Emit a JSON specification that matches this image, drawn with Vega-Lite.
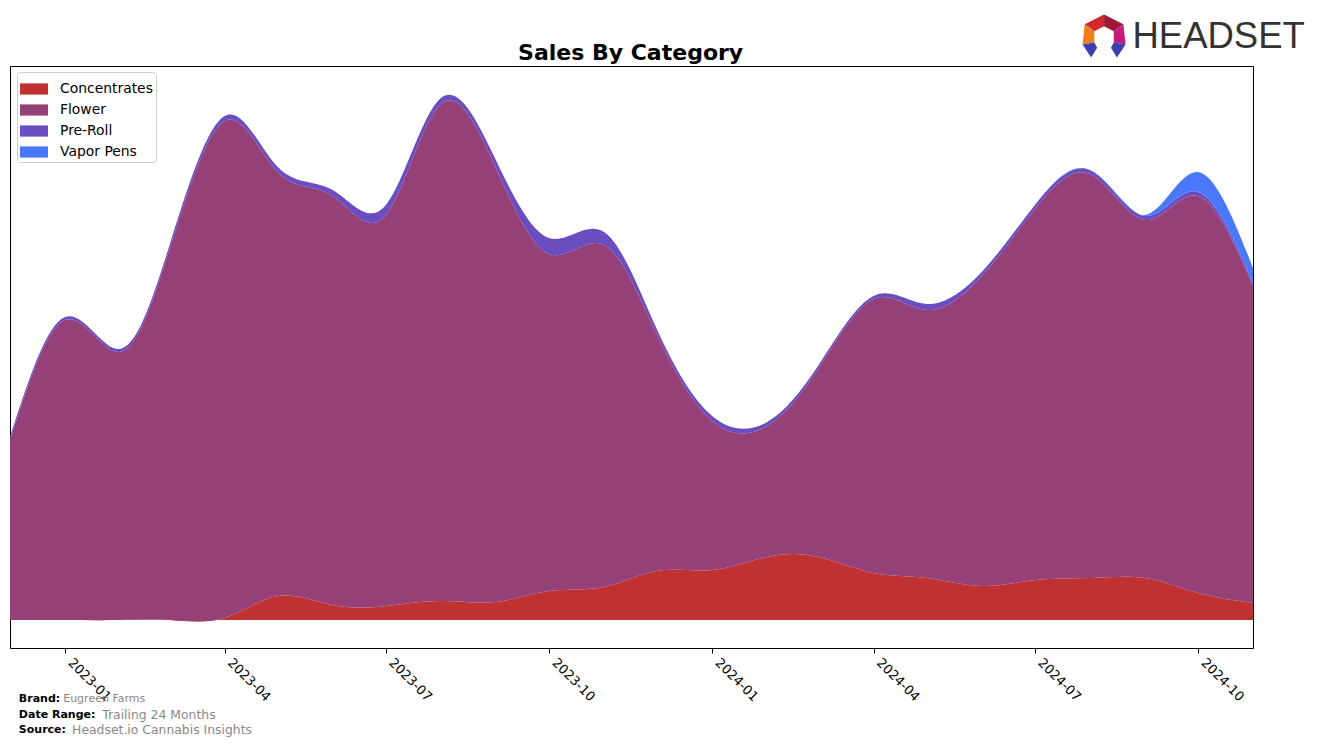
{
  "$schema": "https://vega.github.io/schema/vega-lite/v6.json",
  "width": 1243,
  "height": 582,
  "autosize": {"type": "none"},
  "padding": {"left": 10, "top": 66, "right": 64, "bottom": 98},
  "background": "white",
  "config": {
    "font": "DejaVu Sans",
    "view": {"stroke": "black", "strokeWidth": 1},
    "legend": {
      "orient": "none", "legendX": 7, "legendY": 6, "title": null,
      "labelFontSize": 13.9, "labelColor": "black", "labelOffset": 12, "labelFont": "DejaVu Sans",
      "symbolType": "M-1,-0.4H1V0.4H-1Z", "symbolSize": 784, "symbolStrokeWidth": 0,
      "strokeColor": "#cccccc", "fillColor": "white", "padding": 3, "cornerRadius": 3, "rowPadding": -0.3
    }
  },
  "resolve": {"axis": {"x": "independent"}},
  "data": {"values": [
    {"month": "2022-12-01", "category": "Concentrates", "sales": 0},
    {"month": "2023-01-01", "category": "Concentrates", "sales": 0},
    {"month": "2023-02-01", "category": "Concentrates", "sales": 0},
    {"month": "2023-03-01", "category": "Concentrates", "sales": 0},
    {"month": "2023-04-01", "category": "Concentrates", "sales": 2},
    {"month": "2023-05-01", "category": "Concentrates", "sales": 24},
    {"month": "2023-06-01", "category": "Concentrates", "sales": 15},
    {"month": "2023-07-01", "category": "Concentrates", "sales": 14},
    {"month": "2023-08-01", "category": "Concentrates", "sales": 19},
    {"month": "2023-09-01", "category": "Concentrates", "sales": 18},
    {"month": "2023-10-01", "category": "Concentrates", "sales": 29},
    {"month": "2023-11-01", "category": "Concentrates", "sales": 33},
    {"month": "2023-12-01", "category": "Concentrates", "sales": 49},
    {"month": "2024-01-01", "category": "Concentrates", "sales": 50},
    {"month": "2024-02-01", "category": "Concentrates", "sales": 63},
    {"month": "2024-03-01", "category": "Concentrates", "sales": 63},
    {"month": "2024-04-01", "category": "Concentrates", "sales": 47},
    {"month": "2024-05-01", "category": "Concentrates", "sales": 42},
    {"month": "2024-06-01", "category": "Concentrates", "sales": 34},
    {"month": "2024-07-01", "category": "Concentrates", "sales": 40},
    {"month": "2024-08-01", "category": "Concentrates", "sales": 42},
    {"month": "2024-09-01", "category": "Concentrates", "sales": 42},
    {"month": "2024-10-01", "category": "Concentrates", "sales": 27},
    {"month": "2024-11-01", "category": "Concentrates", "sales": 17},
    {"month": "2022-12-01", "category": "Flower", "sales": 180},
    {"month": "2023-01-01", "category": "Flower", "sales": 300},
    {"month": "2023-02-01", "category": "Flower", "sales": 268},
    {"month": "2023-03-01", "category": "Flower", "sales": 371},
    {"month": "2023-04-01", "category": "Flower", "sales": 497},
    {"month": "2023-05-01", "category": "Flower", "sales": 424},
    {"month": "2023-06-01", "category": "Flower", "sales": 409},
    {"month": "2023-07-01", "category": "Flower", "sales": 391},
    {"month": "2023-08-01", "category": "Flower", "sales": 497},
    {"month": "2023-09-01", "category": "Flower", "sales": 434},
    {"month": "2023-10-01", "category": "Flower", "sales": 337},
    {"month": "2023-11-01", "category": "Flower", "sales": 342},
    {"month": "2023-12-01", "category": "Flower", "sales": 236},
    {"month": "2024-01-01", "category": "Flower", "sales": 149},
    {"month": "2024-02-01", "category": "Flower", "sales": 131},
    {"month": "2024-03-01", "category": "Flower", "sales": 189},
    {"month": "2024-04-01", "category": "Flower", "sales": 274},
    {"month": "2024-05-01", "category": "Flower", "sales": 268},
    {"month": "2024-06-01", "category": "Flower", "sales": 310},
    {"month": "2024-07-01", "category": "Flower", "sales": 371},
    {"month": "2024-08-01", "category": "Flower", "sales": 404},
    {"month": "2024-09-01", "category": "Flower", "sales": 358},
    {"month": "2024-10-01", "category": "Flower", "sales": 397},
    {"month": "2024-11-01", "category": "Flower", "sales": 317},
    {"month": "2022-12-01", "category": "Pre-Roll", "sales": 3},
    {"month": "2023-01-01", "category": "Pre-Roll", "sales": 3},
    {"month": "2023-02-01", "category": "Pre-Roll", "sales": 3},
    {"month": "2023-03-01", "category": "Pre-Roll", "sales": 4},
    {"month": "2023-04-01", "category": "Pre-Roll", "sales": 5},
    {"month": "2023-05-01", "category": "Pre-Roll", "sales": 5},
    {"month": "2023-06-01", "category": "Pre-Roll", "sales": 6},
    {"month": "2023-07-01", "category": "Pre-Roll", "sales": 10},
    {"month": "2023-08-01", "category": "Pre-Roll", "sales": 6},
    {"month": "2023-09-01", "category": "Pre-Roll", "sales": 8},
    {"month": "2023-10-01", "category": "Pre-Roll", "sales": 16},
    {"month": "2023-11-01", "category": "Pre-Roll", "sales": 13},
    {"month": "2023-12-01", "category": "Pre-Roll", "sales": 5},
    {"month": "2024-01-01", "category": "Pre-Roll", "sales": 5},
    {"month": "2024-02-01", "category": "Pre-Roll", "sales": 4},
    {"month": "2024-03-01", "category": "Pre-Roll", "sales": 3},
    {"month": "2024-04-01", "category": "Pre-Roll", "sales": 3},
    {"month": "2024-05-01", "category": "Pre-Roll", "sales": 6},
    {"month": "2024-06-01", "category": "Pre-Roll", "sales": 4},
    {"month": "2024-07-01", "category": "Pre-Roll", "sales": 4},
    {"month": "2024-08-01", "category": "Pre-Roll", "sales": 4},
    {"month": "2024-09-01", "category": "Pre-Roll", "sales": 4},
    {"month": "2024-10-01", "category": "Pre-Roll", "sales": 4},
    {"month": "2024-11-01", "category": "Pre-Roll", "sales": 3},
    {"month": "2022-12-01", "category": "Vapor Pens", "sales": 0},
    {"month": "2023-01-01", "category": "Vapor Pens", "sales": 0},
    {"month": "2023-02-01", "category": "Vapor Pens", "sales": 0},
    {"month": "2023-03-01", "category": "Vapor Pens", "sales": 0},
    {"month": "2023-04-01", "category": "Vapor Pens", "sales": 0},
    {"month": "2023-05-01", "category": "Vapor Pens", "sales": 0},
    {"month": "2023-06-01", "category": "Vapor Pens", "sales": 0},
    {"month": "2023-07-01", "category": "Vapor Pens", "sales": 0},
    {"month": "2023-08-01", "category": "Vapor Pens", "sales": 0},
    {"month": "2023-09-01", "category": "Vapor Pens", "sales": 0},
    {"month": "2023-10-01", "category": "Vapor Pens", "sales": 0},
    {"month": "2023-11-01", "category": "Vapor Pens", "sales": 0},
    {"month": "2023-12-01", "category": "Vapor Pens", "sales": 0},
    {"month": "2024-01-01", "category": "Vapor Pens", "sales": 0},
    {"month": "2024-02-01", "category": "Vapor Pens", "sales": 0},
    {"month": "2024-03-01", "category": "Vapor Pens", "sales": 0},
    {"month": "2024-04-01", "category": "Vapor Pens", "sales": 0},
    {"month": "2024-05-01", "category": "Vapor Pens", "sales": 0},
    {"month": "2024-06-01", "category": "Vapor Pens", "sales": 0},
    {"month": "2024-07-01", "category": "Vapor Pens", "sales": 0},
    {"month": "2024-08-01", "category": "Vapor Pens", "sales": 0},
    {"month": "2024-09-01", "category": "Vapor Pens", "sales": 1},
    {"month": "2024-10-01", "category": "Vapor Pens", "sales": 20},
    {"month": "2024-11-01", "category": "Vapor Pens", "sales": 15}
  ]},
  "layer": [
    {
      "mark": {"type": "area", "interpolate": "natural"},
      "encoding": {
        "x": {"field": "month", "type": "temporal",
              "scale": {"type": "utc", "domain": [{"year": 2022, "month": 12, "date": 1, "utc": true}, {"year": 2024, "month": 11, "date": 1, "utc": true}]},
              "axis": {"title": null, "labelExpr": "utcFormat(datum.value, '%Y-%m')", "tickCount": {"interval": "month", "step": 3},
                       "grid": false, "domain": false, "tickColor": "black", "tickSize": 5, "labelAngle": 45, "labelAlign": "left",
                       "labelBaseline": "top", "labelFontSize": 13, "labelFont": "DejaVu Sans", "labelColor": "black", "labelPadding": 3, "labelOffset": 9, "labelFlush": false, "labelOverlap": false}},
        "y": {"field": "sales", "type": "quantitative", "stack": "zero",
              "scale": {"domain": [-28, 554], "nice": false, "zero": false}, "axis": null},
        "color": {"field": "category", "type": "nominal",
                  "scale": {"domain": ["Concentrates", "Flower", "Pre-Roll", "Vapor Pens"], "range": ["#c03232", "#954077", "#6a4dc0", "#4a78fa"]},
                  "legend": {}},
        "order": {"field": "category"}
      }
    },
    {"data": {"values": [{}]},
     "mark": {"type": "text", "text": "Sales By Category", "fontWeight": "bold", "fontSize": 22, "align": "center", "baseline": "middle", "color": "black", "font": "DejaVu Sans"},
     "encoding": {"x": {"datum": {"year": 2023, "month": 11, "date": 16, "utc": true}, "type": "temporal", "axis": null}, "y": {"datum": 567}}},
    {"data": {"values": [{}]},
     "mark": {"type": "text", "text": "Brand:", "fontWeight": "bold", "fontSize": 11, "align": "left", "baseline": "middle", "color": "black", "font": "DejaVu Sans"},
     "encoding": {"x": {"datum": {"year": 2022, "month": 12, "date": 6, "utc": true}, "type": "temporal", "axis": null}, "y": {"datum": -79}}},
    {"data": {"values": [{}]},
     "mark": {"type": "text", "text": "Eugreen Farms", "fontSize": 11, "align": "left", "baseline": "middle", "color": "#888888", "font": "DejaVu Sans"},
     "encoding": {"x": {"datum": {"year": 2022, "month": 12, "date": 31, "utc": true}, "type": "temporal", "axis": null}, "y": {"datum": -79}}},
    {"data": {"values": [{}]},
     "mark": {"type": "text", "text": "Date Range:", "fontWeight": "bold", "fontSize": 11, "align": "left", "baseline": "middle", "color": "black", "font": "DejaVu Sans"},
     "encoding": {"x": {"datum": {"year": 2022, "month": 12, "date": 6, "utc": true}, "type": "temporal", "axis": null}, "y": {"datum": -95}}},
    {"data": {"values": [{}]},
     "mark": {"type": "text", "text": "Trailing 24 Months", "fontSize": 12.4, "align": "left", "baseline": "middle", "color": "#888888", "font": "DejaVu Sans"},
     "encoding": {"x": {"datum": {"year": 2023, "month": 1, "date": 22, "utc": true}, "type": "temporal", "axis": null}, "y": {"datum": -95}}},
    {"data": {"values": [{}]},
     "mark": {"type": "text", "text": "Source:", "fontWeight": "bold", "fontSize": 11, "align": "left", "baseline": "middle", "color": "black", "font": "DejaVu Sans"},
     "encoding": {"x": {"datum": {"year": 2022, "month": 12, "date": 6, "utc": true}, "type": "temporal", "axis": null}, "y": {"datum": -110}}},
    {"data": {"values": [{}]},
     "mark": {"type": "text", "text": "Headset.io Cannabis Insights", "fontSize": 12.4, "align": "left", "baseline": "middle", "color": "#888888", "font": "DejaVu Sans"},
     "encoding": {"x": {"datum": {"year": 2023, "month": 1, "date": 5, "utc": true}, "type": "temporal", "axis": null}, "y": {"datum": -110}}},
    {"data": {"values": [{}]},
     "mark": {"type": "text", "text": "HEADSET", "font": "Liberation Sans", "fontSize": 36.5, "align": "left", "baseline": "middle", "color": "#333333"},
     "encoding": {"x": {"datum": {"year": 2024, "month": 8, "date": 25, "utc": true}, "type": "temporal", "axis": null}, "y": {"datum": 583}}},
    {"data": {"values": [{}]},
     "mark": {"type": "point", "shape": "M0,-1L-0.9,-0.55L-0.45,-0.22L0,-0.45Z", "filled": true, "fill": "#d42a2f", "size": 1849, "opacity": 1, "strokeWidth": 0},
     "encoding": {"x": {"datum": {"year": 2024, "month": 8, "date": 9, "utc": true}, "type": "temporal", "axis": null}, "y": {"datum": 584}}},
    {"data": {"values": [{}]},
     "mark": {"type": "point", "shape": "M0,-1L0.9,-0.55L0.45,-0.22L0,-0.45Z", "filled": true, "fill": "#a01838", "size": 1849, "opacity": 1, "strokeWidth": 0},
     "encoding": {"x": {"datum": {"year": 2024, "month": 8, "date": 9, "utc": true}, "type": "temporal", "axis": null}, "y": {"datum": 584}}},
    {"data": {"values": [{}]},
     "mark": {"type": "point", "shape": "M-0.9,-0.55L-1,0.4L-0.45,0.3L-0.45,-0.22Z", "filled": true, "fill": "#f07d22", "size": 1849, "opacity": 1, "strokeWidth": 0},
     "encoding": {"x": {"datum": {"year": 2024, "month": 8, "date": 9, "utc": true}, "type": "temporal", "axis": null}, "y": {"datum": 584}}},
    {"data": {"values": [{}]},
     "mark": {"type": "point", "shape": "M0.9,-0.55L1,0.4L0.45,0.3L0.45,-0.22Z", "filled": true, "fill": "#c21a7e", "size": 1849, "opacity": 1, "strokeWidth": 0},
     "encoding": {"x": {"datum": {"year": 2024, "month": 8, "date": 9, "utc": true}, "type": "temporal", "axis": null}, "y": {"datum": 584}}},
    {"data": {"values": [{}]},
     "mark": {"type": "point", "shape": "M-1,0.4L-0.6,1L-0.32,0.55L-0.45,0.3Z", "filled": true, "fill": "#3d3fae", "size": 1849, "opacity": 1, "strokeWidth": 0},
     "encoding": {"x": {"datum": {"year": 2024, "month": 8, "date": 9, "utc": true}, "type": "temporal", "axis": null}, "y": {"datum": 584}}},
    {"data": {"values": [{}]},
     "mark": {"type": "point", "shape": "M1,0.4L0.6,1L0.32,0.55L0.45,0.3Z", "filled": true, "fill": "#3d3fae", "size": 1849, "opacity": 1, "strokeWidth": 0},
     "encoding": {"x": {"datum": {"year": 2024, "month": 8, "date": 9, "utc": true}, "type": "temporal", "axis": null}, "y": {"datum": 584}}}
  ]
}
